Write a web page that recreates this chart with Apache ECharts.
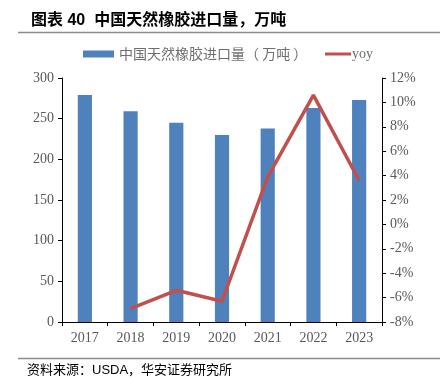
<!DOCTYPE html>
<html><head><meta charset="utf-8">
<script src="https://cdn.jsdelivr.net/npm/echarts@6/dist/echarts.min.js"></script>
<style>html,body{margin:0;padding:0;background:#fff}#c{width:440px;height:389px}</style>
</head><body><div id="c"></div>
<script>
const categories = ['2017','2018','2019','2020','2021','2022','2023'];
const importVolume = [279, 259, 245, 230, 238, 263, 273];
const yoy = [null, -6.9, -5.4, -6.3, 3.9, 10.6, 3.6];
const leftTicks = {min: 0, max: 300, interval: 50};
const rightTicks = {min: -8, max: 12, interval: 2};

const chart = echarts.init(document.getElementById('c'));
const serif = '"Liberation Serif", "Times New Roman", serif';
const cjk = '"Liberation Sans", "Noto Sans CJK SC", sans-serif';
chart.setOption({
  animation: false,
  title: {
    text: '图表 40  中国天然橡胶进口量，万吨',
    left: 26, top: 8,
    textStyle: {fontSize: 16, fontWeight: 'bold', color: '#000', fontFamily: cjk}
  },
  graphic: [
    {type: 'line', shape: {x1: 18, y1: 32.5, x2: 440, y2: 32.5}, style: {stroke: '#8c8c8c', lineWidth: 1.5}},
    {type: 'line', shape: {x1: 18, y1: 358.5, x2: 440, y2: 358.5}, style: {stroke: '#8c8c8c', lineWidth: 1.5}},
    {type: 'text', left: 27, top: 364, style: {text: '资料来源：USDA，华安证券研究所', fontSize: 13, fill: '#000', fontFamily: cjk}}
  ],
  legend: [
    {data: [{name: '中国天然橡胶进口量（ 万吨 ）', icon: 'rect'}], left: 78, top: 42, itemWidth: 31, itemHeight: 7, itemGap: 4,
     textStyle: {fontSize: 14, color: '#6e6e6e', fontFamily: '"Noto Sans CJK SC", sans-serif'}},
    {data: [{name: 'yoy', icon: 'rect'}], left: 320, top: 42, itemWidth: 26, itemHeight: 3,
     textStyle: {fontSize: 14, color: '#6e6e6e', fontFamily: serif, padding: [0, 0, 0, -4]}}
  ],
  grid: {left: 62, right: 58, top: 78, bottom: 67},
  xAxis: {
    type: 'category', data: categories,
    axisLine: {lineStyle: {color: '#000', width: 1}},
    axisTick: {show: true, alignWithLabel: false, length: 4, lineStyle: {color: '#000'}},
    axisLabel: {color: '#595959', fontSize: 14, fontFamily: serif, margin: 9}
  },
  yAxis: [
    {type: 'value', min: leftTicks.min, max: leftTicks.max, interval: leftTicks.interval,
     axisLine: {show: true, lineStyle: {color: '#000'}},
     axisTick: {show: true, length: 4, lineStyle: {color: '#000'}},
     splitLine: {show: false},
     axisLabel: {color: '#595959', fontSize: 14, fontFamily: serif, margin: 8}},
    {type: 'value', min: rightTicks.min, max: rightTicks.max, interval: rightTicks.interval,
     axisLine: {show: true, lineStyle: {color: '#000'}},
     axisTick: {show: true, length: 4, lineStyle: {color: '#000'}},
     splitLine: {show: false},
     axisLabel: {color: '#595959', fontSize: 14, fontFamily: serif, margin: 8, formatter: '{value}%'}}
  ],
  series: [
    {name: '中国天然橡胶进口量（ 万吨 ）', type: 'bar', data: importVolume, barWidth: '31%',
     itemStyle: {color: '#4F81BD'}},
    {name: 'yoy', type: 'line', yAxisIndex: 1, data: yoy, symbol: 'none',
     lineStyle: {color: '#C0504D', width: 3.5}, itemStyle: {color: '#C0504D'}}
  ]
});
</script></body></html>
